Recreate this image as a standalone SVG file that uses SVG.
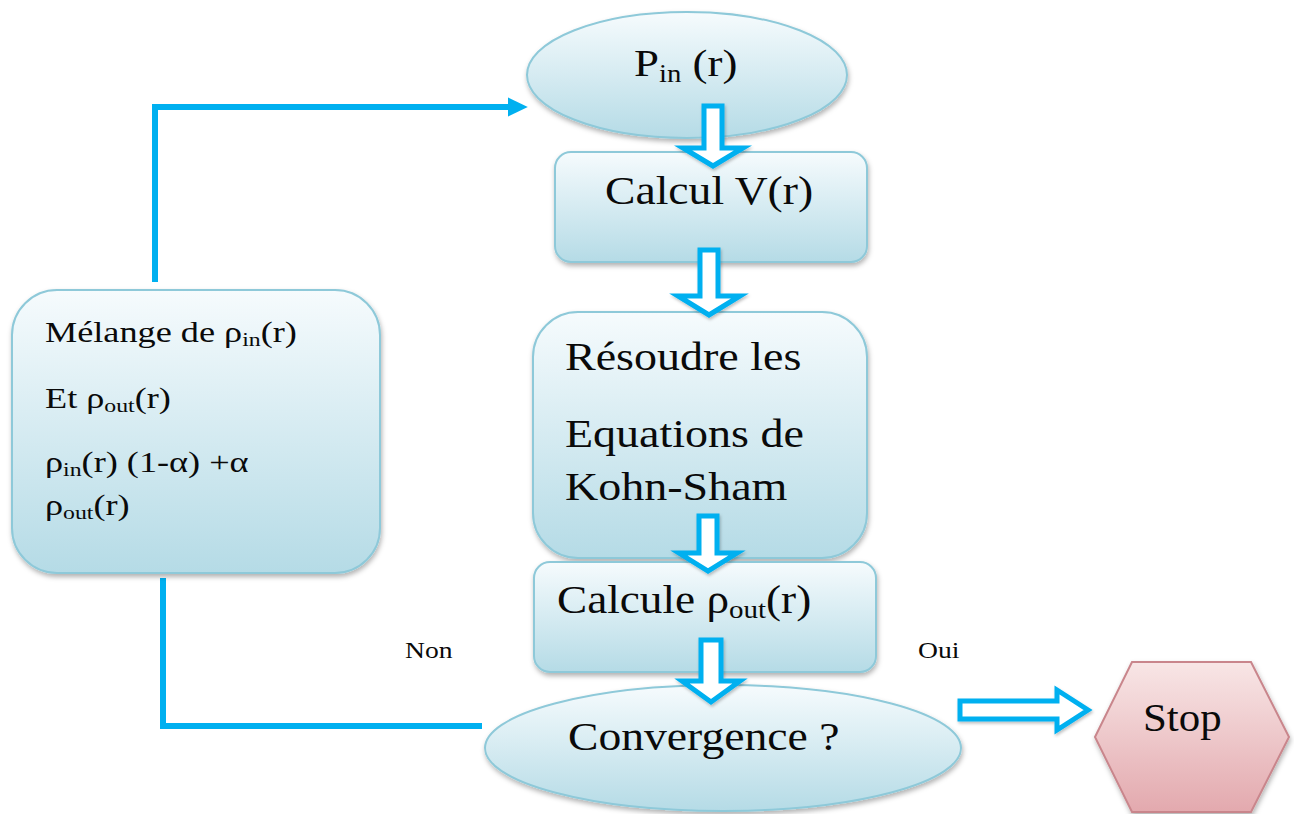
<svg xmlns="http://www.w3.org/2000/svg" width="1294" height="814" viewBox="0 0 1294 814">
<style>
.node{stroke:#8ec9d9;stroke-width:2;fill:url(#gb);filter:url(#sh)}
.stop{stroke:#c9868c;stroke-width:2;fill:url(#gr);filter:url(#sh)}
.t{font-family:"Liberation Serif","Times New Roman","DejaVu Serif",serif;fill:#0a0a0a}
.big{font-size:39px}
.mid{font-size:29px}
.small{font-size:23px}
.line{fill:none;stroke:#00b0f0;stroke-width:6}
.blk{fill:#ffffff;stroke:#00b0f0;stroke-width:5;stroke-linejoin:miter;filter:url(#sh2)}
</style>
<defs>
<linearGradient id="gb" x1="0" y1="0" x2="0" y2="1">
<stop offset="0" stop-color="#f6fbfd"/>
<stop offset="1" stop-color="#b5dbe6"/>
</linearGradient>
<linearGradient id="gr" x1="0" y1="0" x2="0" y2="1">
<stop offset="0" stop-color="#f8e6e6"/>
<stop offset="1" stop-color="#e3a9ae"/>
</linearGradient>
<filter id="sh" x="-10%" y="-10%" width="120%" height="130%">
<feDropShadow dx="1" dy="3" stdDeviation="2.5" flood-color="#000" flood-opacity="0.3"/>
</filter>
<filter id="sh2" x="-20%" y="-20%" width="140%" height="140%">
<feDropShadow dx="1" dy="2" stdDeviation="1.5" flood-color="#000" flood-opacity="0.25"/>
</filter>
<marker id="ah" markerWidth="4" markerHeight="4" refX="0" refY="1.6" orient="auto" markerUnits="strokeWidth">
<path d="M0,0 L3.3,1.6 L0,3.2 Z" fill="#00b0f0"/>
</marker>
</defs>
<rect width="1294" height="814" fill="#ffffff"/>

<g id="connectors">
<polyline class="line" points="155,282 155,107 508,107" marker-end="url(#ah)"/>
<polyline class="line" points="163,578 163,726 482,726"/>
</g>

<g id="n-pin">
<ellipse class="node" cx="687" cy="75" rx="160" ry="63"/>
<text class="t big" transform="translate(634,76) scale(1.15,1)">P<tspan font-size="25" dy="6">in</tspan><tspan dy="-6"> (r)</tspan></text>
</g>

<g id="n-calcv">
<rect class="node" x="555" y="152" width="312" height="110" rx="16"/>
<text class="t big" transform="translate(605,204) scale(1.17,1)">Calcul V(r)</text>
</g>

<g id="n-resoudre">
<rect class="node" x="533" y="312" width="334" height="246" rx="45"/>
<text class="t big" transform="translate(565,370) scale(1.18,1)">Résoudre les</text>
<text class="t big" transform="translate(565,447) scale(1.18,1)">Equations de</text>
<text class="t big" transform="translate(565,500) scale(1.18,1)">Kohn-Sham</text>
</g>

<g id="n-calcrho">
<rect class="node" x="534" y="562" width="342" height="110" rx="16"/>
<text class="t big" transform="translate(557,613) scale(1.16,1)">Calcule ρ<tspan font-size="25" dy="5">out</tspan><tspan dy="-5">(r)</tspan></text>
</g>

<g id="n-conv">
<ellipse class="node" cx="723" cy="748" rx="238" ry="63"/>
<text class="t big" transform="translate(568,750) scale(1.17,1)">Convergence ?</text>
</g>

<g id="n-stop">
<polygon class="stop" points="1095,737 1132,662 1251,662 1289,737 1251,812 1132,812"/>
<text class="t big" transform="translate(1143,731) scale(1.1,1)">Stop</text>
</g>

<g id="n-melange">
<rect class="node" x="12" y="290" width="368" height="283" rx="45"/>
<text class="t mid" transform="translate(45,342) scale(1.25,1)">Mélange de ρ<tspan font-size="19" dy="4">in</tspan><tspan dy="-4">(r)</tspan></text>
<text class="t mid" transform="translate(45,408) scale(1.25,1)">Et ρ<tspan font-size="19" dy="4">out</tspan><tspan dy="-4">(r)</tspan></text>
<text class="t mid" transform="translate(45,472) scale(1.25,1)">ρ<tspan font-size="19" dy="4">in</tspan><tspan dy="-4">(r) (1-α) +α</tspan></text>
<text class="t mid" transform="translate(45,515) scale(1.25,1)">ρ<tspan font-size="19" dy="4">out</tspan><tspan dy="-4">(r)</tspan></text>
</g>

<g id="block-arrows">
<path class="blk" d="M704,106 L722,106 L722,148 L743,148 L713,166 L683,148 L704,148 Z"/>
<path class="blk" d="M700,250 L718,250 L718,296 L740,296 L709,315 L678,296 L700,296 Z"/>
<path class="blk" d="M699,516 L717,516 L717,553 L737,553 L708,571 L679,553 L699,553 Z"/>
<path class="blk" d="M701,640 L721,640 L721,681 L740,681 L711,702 L682,681 L701,681 Z"/>
<path class="blk" d="M960,701 L1057,701 L1057,690 L1088,710 L1057,730 L1057,719 L960,719 Z"/>
</g>

<g id="labels">
<text class="t small" transform="translate(405,658) scale(1.2,1)">Non</text>
<text class="t small" transform="translate(918,658) scale(1.2,1)">Oui</text>
</g>
</svg>
